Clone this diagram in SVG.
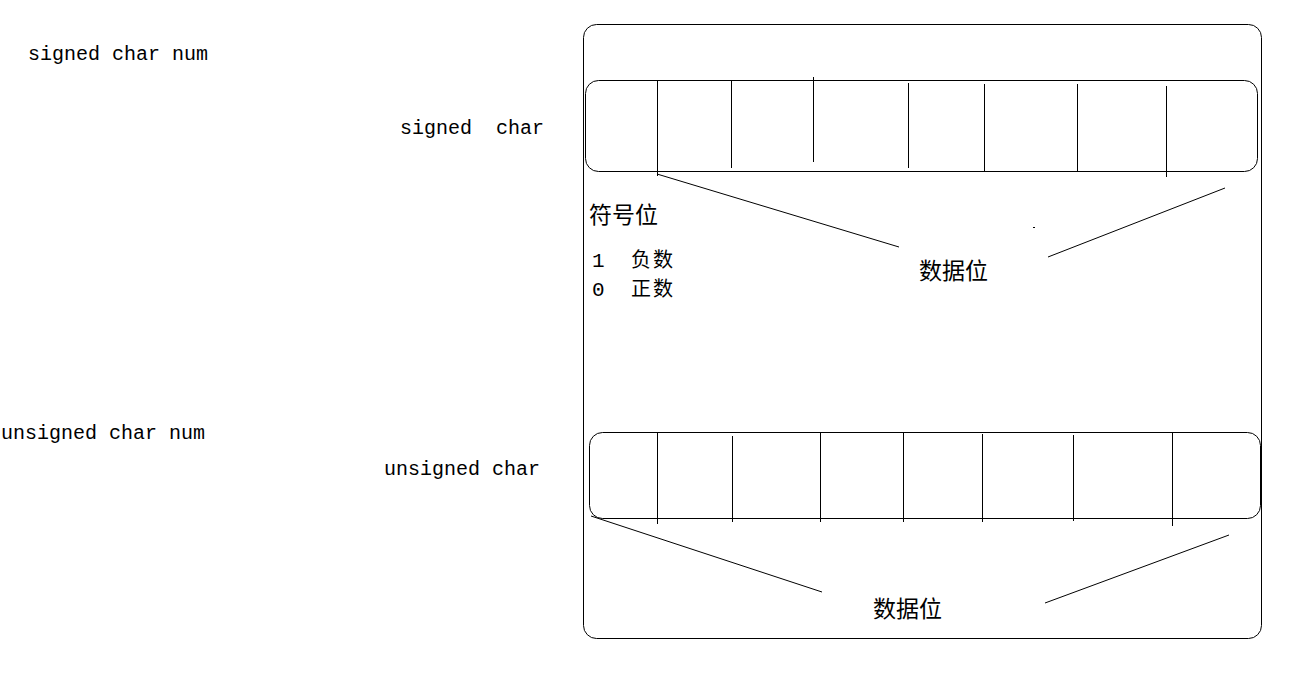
<svg xmlns="http://www.w3.org/2000/svg" width="1316" height="689" viewBox="0 0 1316 689">
<style>
.box{fill:none;stroke:#000;stroke-width:1}
.ln{stroke:#000;stroke-width:1;fill:none}
.lat{font-family:"Liberation Mono","DejaVu Sans Mono",monospace;font-size:20px;fill:#000}
.dig{font-family:"Liberation Mono","DejaVu Sans Mono",monospace;font-size:21px;fill:#000}
.cjk{font-family:"Noto Sans CJK SC","Noto Sans CJK JP",sans-serif;font-size:23px;fill:#000}
.cjks{font-family:"Noto Sans CJK SC","Noto Sans CJK JP",sans-serif;font-size:20px;letter-spacing:2px;fill:#000}
</style>
<rect width="1316" height="689" fill="#fff"/>
<g id="labels">
<text class="lat" x="28" y="60">signed char num</text>
<text class="lat" x="400" y="134" xml:space="preserve">signed  char</text>
<text class="lat" x="1" y="439">unsigned char num</text>
<text class="lat" x="384" y="475">unsigned char</text>
</g>
<g id="outer">
<rect class="box" x="583.5" y="24.5" width="678" height="614" rx="13" ry="13"/>
</g>
<g id="signed-byte">
<rect class="box" x="585.5" y="80.5" width="672" height="91" rx="13" ry="13"/>
<line class="ln" x1="657.5" y1="81" x2="657.5" y2="176"/>
<line class="ln" x1="731.5" y1="81" x2="731.5" y2="168"/>
<line class="ln" x1="813.5" y1="77" x2="813.5" y2="162"/>
<line class="ln" x1="908.5" y1="83" x2="908.5" y2="168"/>
<line class="ln" x1="984.5" y1="84" x2="984.5" y2="171"/>
<line class="ln" x1="1077.5" y1="84" x2="1077.5" y2="171"/>
<line class="ln" x1="1166.5" y1="86" x2="1166.5" y2="177"/>
</g>
<g id="signed-notes">
<text class="cjk" x="589" y="223">符号位</text>
<text class="dig" x="592" y="267">1</text>
<text class="cjks" x="631" y="267">负数</text>
<text class="dig" x="592" y="296">0</text>
<text class="cjks" x="631" y="296">正数</text>
<text class="cjk" x="919" y="279">数据位</text>
</g>
<g id="unsigned-byte">
<rect class="box" x="589.5" y="432.5" width="671" height="86" rx="13" ry="13"/>
<line class="ln" x1="657.5" y1="433" x2="657.5" y2="524"/>
<line class="ln" x1="732.5" y1="436" x2="732.5" y2="522"/>
<line class="ln" x1="820.5" y1="433" x2="820.5" y2="522"/>
<line class="ln" x1="903.5" y1="433" x2="903.5" y2="522"/>
<line class="ln" x1="982.5" y1="434" x2="982.5" y2="522"/>
<line class="ln" x1="1073.5" y1="435" x2="1073.5" y2="521"/>
<line class="ln" x1="1172.5" y1="433" x2="1172.5" y2="526"/>
<text class="cjk" x="873" y="617">数据位</text>
</g>
<g id="connectors">
<line class="ln" x1="657" y1="174" x2="899" y2="247"/>
<line class="ln" x1="1225" y1="188" x2="1048" y2="257"/>
<line class="ln" x1="1033" y1="227.5" x2="1035" y2="227.5"/>
<line class="ln" x1="591" y1="516" x2="822" y2="592"/>
<line class="ln" x1="1229" y1="535" x2="1045" y2="603"/>
</g>
</svg>
